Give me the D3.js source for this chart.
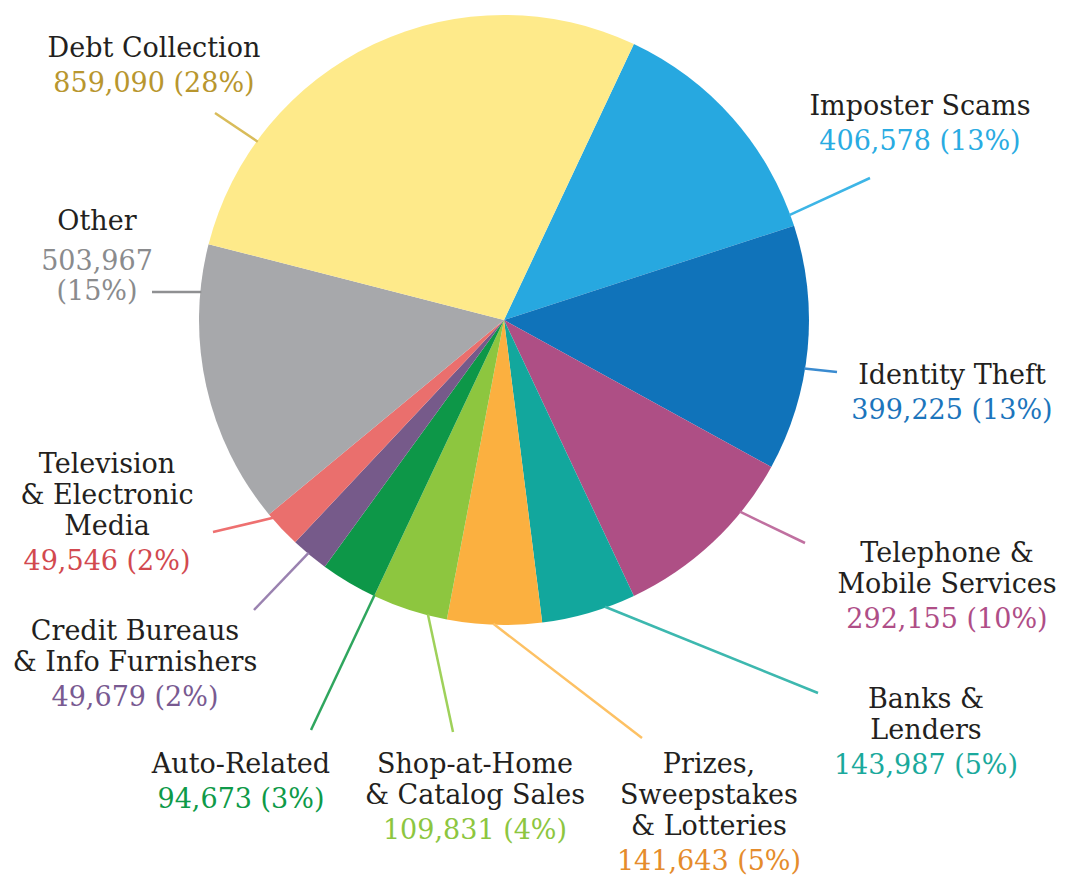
<!DOCTYPE html>
<html>
<head>
<meta charset="utf-8">
<script src="https://cdn.jsdelivr.net/npm/d3@7"></script>
<style>
  html, body { margin: 0; padding: 0; background: #fff; }
  svg { display: block; }
</style>
</head>
<body>
<div id="chart"></div>
<script>
// Data
const categories = [
  "Imposter Scams", "Identity Theft", "Telephone & Mobile Services", "Banks & Lenders",
  "Prizes, Sweepstakes & Lotteries", "Shop-at-Home & Catalog Sales", "Auto-Related",
  "Credit Bureaus & Info Furnishers", "Television & Electronic Media", "Other", "Debt Collection"
];
const counts = [406578, 399225, 292155, 143987, 141643, 109831, 94673, 49679, 49546, 503967, 859090];
const percents = [13, 13, 10, 5, 5, 4, 3, 2, 2, 15, 28];

const sliceColors = ["#27a8e0", "#1073ba", "#ae4f85", "#12a79d", "#fbb040", "#8dc63f",
  "#0d9748", "#765a8a", "#ea6f6d", "#a7a8ab", "#feea8a"];
const valueColors = ["#29abe2", "#1c75bc", "#af4e87", "#1aa99c", "#e58c2c", "#8dc63f",
  "#0e9a48", "#795a91", "#d2494f", "#8a8b8d", "#b8962e"];
const lineColors = ["#3db5e6", "#3a8bd0", "#c070a0", "#3db8af", "#fdc164", "#9fd15a",
  "#2fa65e", "#9a82b0", "#ee7070", "#8f9092", "#d9bc5a"];

// Label layout: name lines, anchor (centre x, first baseline), leader line (start angle on rim, end point)
const layout = [
  { lines: ["Imposter Scams"], x: 920, y: 115, lineAngle: 69.8, end: [870, 178] },
  { lines: ["Identity Theft"], x: 952, y: 384, lineAngle: 99.2, end: [837, 372] },
  { lines: ["Telephone &", "Mobile Services"], x: 947, y: 562, lineAngle: 129.1, end: [805, 543] },
  { lines: ["Banks &", "Lenders"], x: 926, y: 708, lineAngle: 160.6, end: [818, 693] },
  { lines: ["Prizes,", "Sweepstakes", "& Lotteries"], x: 709, y: 773, lineAngle: 182, end: [642, 738] },
  { lines: ["Shop-at-Home", "& Catalog Sales"], x: 475, y: 773, lineAngle: 194.5, end: [453, 732] },
  { lines: ["Auto-Related"], x: 241, y: 773, lineAngle: 205.2, end: [311, 730] },
  { lines: ["Credit Bureaus", "& Info Furnishers"], x: 135, y: 640, lineAngle: 220, end: [254, 610] },
  { lines: ["Television", "& Electronic", "Media"], x: 107, y: 473, lineAngle: 229.4, end: [213, 532] },
  { lines: ["Other"], x: 97, y: 230, split: true, lineAngle: 275.3, end: [152, 292] },
  { lines: ["Debt Collection"], x: 154, y: 57, lineAngle: 305.9, end: [215, 113] }
];

const width = 1065;
const height = 882;
const cx = 504, cy = 320, radius = 305;
const rad = Math.PI / 180;
const startAngle = 25.2 * rad;

const svg = d3.select("#chart").append("svg")
  .attr("width", width)
  .attr("height", height)
  .attr("viewBox", `0 0 ${width} ${height}`);

const pie = d3.pie()
  .sort(null)
  .value(d => d)
  .startAngle(startAngle)
  .endAngle(startAngle + 2 * Math.PI);

const arc = d3.arc().innerRadius(0).outerRadius(radius);

const g = svg.append("g").attr("transform", `translate(${cx},${cy})`);

g.selectAll("path")
  .data(pie(percents))
  .join("path")
    .attr("d", arc)
    .attr("fill", (d, i) => sliceColors[i]);

// Leader lines
svg.append("g")
    .attr("fill", "none")
    .attr("stroke-width", 2.5)
  .selectAll("line")
  .data(layout)
  .join("line")
    .attr("x1", d => cx + d3.pointRadial(d.lineAngle * rad, radius - 1)[0])
    .attr("y1", d => cy + d3.pointRadial(d.lineAngle * rad, radius - 1)[1])
    .attr("x2", d => d.end[0])
    .attr("y2", d => d.end[1])
    .attr("stroke", (d, i) => lineColors[i]);

// Labels
const fmt = d3.format(",");
const nameGap = 31;
const valueGap = 35;

const labels = svg.append("g")
    .attr("font-family", "'DejaVu Serif', serif")
    .attr("font-size", 27)
    .attr("text-anchor", "middle")
  .selectAll("g")
  .data(layout)
  .join("g");

labels.each(function(d, i) {
  const el = d3.select(this);
  d.lines.forEach((t, j) => {
    el.append("text")
      .attr("x", d.x)
      .attr("y", d.y + j * nameGap)
      .attr("fill", "#231f20")
      .text(t);
  });
  const lastY = d.y + (d.lines.length - 1) * nameGap;
  const val = fmt(counts[i]);
  const pct = `(${percents[i]}%)`;
  if (d.split) {
    el.append("text").attr("x", d.x).attr("y", lastY + 40).attr("fill", valueColors[i]).text(val);
    el.append("text").attr("x", d.x).attr("y", lastY + 70).attr("fill", valueColors[i]).text(pct);
  } else {
    el.append("text")
      .attr("x", d.x)
      .attr("y", lastY + valueGap)
      .attr("fill", valueColors[i])
      .text(`${val} ${pct}`);
  }
});
</script>
</body>
</html>
